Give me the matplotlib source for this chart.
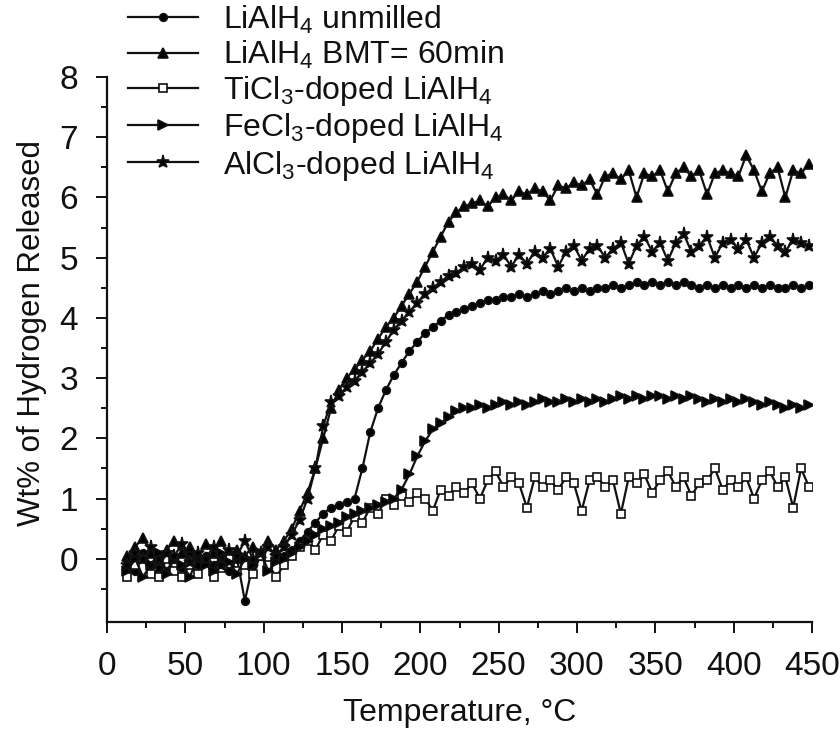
import numpy as np
import matplotlib
matplotlib.use("Agg")
import matplotlib.pyplot as plt
from matplotlib import font_manager
from matplotlib.ticker import FixedLocator

# temperatures (deg C), one reading every 5 degrees
temp = np.arange(13, 450, 5)

# wt% of hydrogen released
unmilled = [0.0, -0.2, 0.1, -0.1, 0.05, -0.2, 0.0, -0.15, 0.1, -0.1,
            0.05, -0.1, 0.0, -0.2, 0.0, -0.7, -0.1, 0.05, -0.15, 0.0,
            0.05, 0.15, 0.3, 0.45, 0.6, 0.75, 0.85, 0.9, 0.95, 1.0,
            1.5, 2.1, 2.5, 2.8, 3.05, 3.25, 3.45, 3.6, 3.75, 3.85,
            3.95, 4.05, 4.1, 4.15, 4.2, 4.25, 4.3, 4.3, 4.35, 4.35,
            4.4, 4.35, 4.4, 4.45, 4.4, 4.45, 4.5, 4.45, 4.5, 4.45,
            4.5, 4.5, 4.55, 4.5, 4.55, 4.6, 4.55, 4.6, 4.55, 4.6,
            4.55, 4.6, 4.55, 4.5, 4.55, 4.5, 4.55, 4.5, 4.55, 4.5,
            4.55, 4.5, 4.55, 4.5, 4.5, 4.55, 4.5, 4.55]
bmt60 = [0.05, 0.2, 0.35, 0.1, 0.0, 0.15, 0.3, 0.1, 0.2, 0.05,
         0.25, 0.1, 0.3, 0.0, 0.15, 0.05, 0.2, 0.1, 0.3, 0.15,
         0.3, 0.5, 0.8, 1.1, 1.5, 2.0, 2.5, 2.8, 3.0, 3.15,
         3.3, 3.45, 3.65, 3.85, 4.0, 4.2, 4.4, 4.6, 4.85, 5.1,
         5.35, 5.6, 5.75, 5.85, 5.9, 5.95, 5.85, 6.0, 6.05, 5.95,
         6.1, 6.05, 6.15, 6.1, 5.95, 6.2, 6.15, 6.25, 6.2, 6.3,
         6.05, 6.35, 6.4, 6.3, 6.45, 6.0, 6.4, 6.35, 6.45, 6.1,
         6.4, 6.5, 6.35, 6.45, 6.05, 6.4, 6.45, 6.4, 6.35, 6.7,
         6.45, 6.1, 6.4, 6.5, 6.0, 6.45, 6.4, 6.55]
ticl3 = [-0.3, -0.1, 0.0, -0.25, -0.3, 0.0, -0.2, -0.3, -0.1, -0.25,
         -0.05, -0.3, -0.15, 0.0, -0.2, -0.1, -0.25, 0.05, -0.1, -0.3,
         -0.1, 0.05, 0.2, 0.3, 0.15, 0.4, 0.3, 0.55, 0.45, 0.7,
         0.6, 0.85, 0.75, 1.0, 0.9, 1.05, 0.95, 1.1, 1.0, 0.8,
         1.15, 1.05, 1.2, 1.1, 1.25, 1.0, 1.3, 1.45, 1.2, 1.35,
         1.25, 0.85, 1.35, 1.2, 1.3, 1.15, 1.35, 1.25, 0.8, 1.3,
         1.35, 1.2, 1.3, 0.75, 1.35, 1.25, 1.4, 1.1, 1.3, 1.45,
         1.2, 1.35, 1.05, 1.25, 1.3, 1.5, 1.15, 1.3, 1.2, 1.35,
         1.0, 1.3, 1.45, 1.2, 1.35, 0.85, 1.5, 1.2]
fecl3 = [-0.2, 0.0, -0.3, -0.1, 0.1, -0.25, 0.0, -0.1, -0.3, 0.05,
         -0.1, -0.2, 0.1, -0.05, -0.25, 0.0, -0.1, 0.1, -0.2, -0.05,
         0.0, 0.1, 0.2, 0.3, 0.4, 0.5, 0.55, 0.6, 0.7, 0.75,
         0.8, 0.85, 0.9, 0.95, 1.0, 1.15, 1.4, 1.7, 1.95, 2.15,
         2.25, 2.35, 2.45, 2.5, 2.5, 2.55, 2.5, 2.55, 2.6, 2.55,
         2.6, 2.55, 2.6, 2.65, 2.6, 2.6, 2.65, 2.6, 2.65, 2.6,
         2.65, 2.6, 2.65, 2.7, 2.65, 2.7, 2.65, 2.7, 2.7, 2.65,
         2.7, 2.65, 2.7, 2.65, 2.6, 2.65, 2.6, 2.65, 2.6, 2.65,
         2.6, 2.55, 2.6, 2.55, 2.5, 2.55, 2.5, 2.55]
alcl3 = [-0.1, 0.1, 0.0, 0.2, -0.15, 0.1, 0.05, 0.25, -0.05, 0.1,
         0.0, 0.2, -0.1, 0.15, 0.05, 0.3, 0.0, 0.1, 0.2, 0.05,
         0.2, 0.4, 0.65, 1.0, 1.5, 2.2, 2.6, 2.7, 2.85, 2.95,
         3.1, 3.25, 3.4, 3.6, 3.8, 3.95, 4.1, 4.25, 4.4, 4.5,
         4.6, 4.7, 4.75, 4.85, 4.9, 4.8, 5.0, 4.95, 5.05, 4.85,
         5.05, 4.9, 5.1, 5.0, 5.15, 4.85, 5.1, 5.2, 4.95, 5.15,
         5.2, 5.0, 5.15, 5.25, 4.9, 5.2, 5.35, 5.1, 5.25, 4.95,
         5.25, 5.4, 5.1, 5.2, 5.35, 5.0, 5.25, 5.3, 5.15, 5.3,
         5.0, 5.25, 5.35, 5.2, 5.1, 5.3, 5.25, 5.2]

labels = [r"LiAlH$_4$ unmilled", r"LiAlH$_4$ BMT= 60min",
          r"TiCl$_3$-doped LiAlH$_4$", r"FeCl$_3$-doped LiAlH$_4$",
          r"AlCl$_3$-doped LiAlH$_4$"]
series = [unmilled, bmt60, ticl3, fecl3, alcl3]
markers = ["o", "^", "s", ">", "*"]
msizes = [5.5, 7, 5.5, 7, 9.5]
faces = ["black", "black", "white", "black", "black"]

names = {f.name for f in font_manager.fontManager.ttflist}
tick_font = "Liberation Sans"
for cand in ["Liberation Sans Narrow", "DejaVu Sans Condensed"]:
    if cand in names:
        tick_font = cand
        break

plt.rcParams["font.family"] = "Liberation Sans"
plt.rcParams["mathtext.fontset"] = "custom"
plt.rcParams["mathtext.rm"] = "Liberation Sans"
plt.rcParams["mathtext.it"] = "Liberation Sans:italic"
plt.rcParams["mathtext.bf"] = "Liberation Sans:bold"
plt.rcParams["mathtext.default"] = "regular"

ink = "#111111"
fig = plt.figure(figsize=(8.4, 7.32), dpi=100)
ax = fig.add_axes([107 / 840, 110 / 732, 705 / 840, 545 / 732])

handles = []
for y, lab, m, ms, fc in zip(series, labels, markers, msizes, faces):
    h, = ax.plot(temp, y, color=ink, lw=1.6, marker=m, ms=ms,
                 mfc=fc, mec=ink, mew=1.2, label=lab)
    handles.append(h)

ax.set_xlim(0, 450)
ax.set_ylim(-1.05, 8)
ax.set_xticks(np.arange(0, 451, 50))
ax.xaxis.set_minor_locator(FixedLocator(np.arange(25, 450, 50)))
ax.set_yticks(np.arange(0, 9, 1))
ax.yaxis.set_minor_locator(FixedLocator(np.arange(-0.5, 8, 1)))

for s in ["top", "right"]:
    ax.spines[s].set_visible(False)
for s in ["left", "bottom"]:
    ax.spines[s].set_linewidth(1.6)
    ax.spines[s].set_color(ink)

ax.tick_params(which="major", direction="out", length=8, width=1.4, pad=13, colors=ink)
ax.tick_params(which="minor", direction="out", length=4.5, width=1.4, colors=ink)
for t in ax.get_xticklabels() + ax.get_yticklabels():
    t.set_fontfamily(tick_font)
    t.set_fontsize(24)

ax.set_xlabel("Temperature, \u00b0C", fontsize=23, color=ink)
ax.set_ylabel("Wt% of Hydrogen Released", fontsize=22.5, color=ink)
ax.xaxis.set_label_coords(0.5, -0.14)
ax.yaxis.set_label_coords(-0.085, 0.53)

leg = fig.legend(handles=handles, loc="upper left", bbox_to_anchor=(128 / 840, 0.995),
                 frameon=False, fontsize=23, handlelength=2.2, handletextpad=0.78,
                 labelspacing=0.1, borderpad=0, borderaxespad=0, numpoints=1)
for t in leg.get_texts():
    t.set_color(ink)

fig.savefig("out.png", dpi=100)
